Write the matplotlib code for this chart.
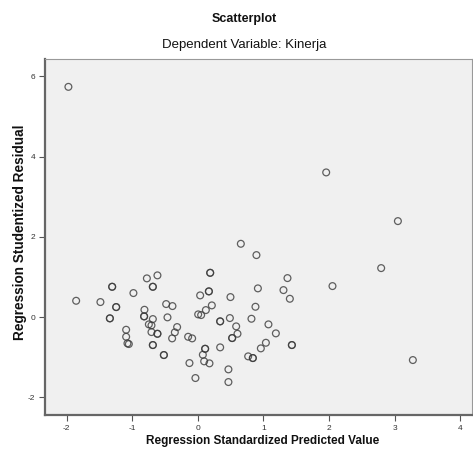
import numpy as np
import matplotlib
matplotlib.use("Agg")
import matplotlib.pyplot as plt

plt.rcParams['font.family'] = ['Liberation Sans', 'DejaVu Sans']
plt.rcParams['axes.unicode_minus'] = False

# standardized predicted value (x) and studentized residual (y)
pred = [-1.973, -1.855, -1.485, -1.306, -1.245, -1.341, -0.982, -1.093, -1.093, -1.073,
        -1.052, -0.777, -0.616, -0.686, -0.814, -0.819, -0.686, -0.747, -0.707, -0.707,
        -0.616, -0.686, -0.518, -0.483, -0.387, -0.463, -0.316, -0.351, -0.392, -0.148,
        -0.087, -0.128, -0.037, 0.035, 0.005, 0.050, 0.122, 0.213, 0.168, 0.188,
        0.111, 0.076, 0.096, 0.177, 0.340, 0.340, 0.488, 0.497, 0.584, 0.604,
        0.523, 0.466, 0.466, 0.655, 0.893, 0.915, 0.878, 0.817, 0.767, 0.838,
        0.960, 1.956, 3.049, 2.794, 2.052, 3.277, 1.366, 1.305, 1.402, 1.076,
        1.189, 1.037, 1.433,
        # overlapping (darker) points
        -1.306, -1.245, -1.341, -0.819, -0.686, -0.616, -0.686, -0.518, 0.188, 0.168,
        0.340, 0.111, 0.523, 0.838, 1.433]
resid = [5.736, 0.406, 0.374, 0.755, 0.249, -0.032, 0.598, -0.316, -0.491, -0.655,
         -0.672, 0.964, 1.039, 0.755, 0.182, 0.017, -0.050, -0.182, -0.207, -0.374,
         -0.416, -0.697, -0.946, 0.324, 0.274, -0.007, -0.249, -0.381, -0.531, -0.491,
         -0.531, -1.146, -1.519, 0.540, 0.067, 0.050, 0.174, 0.291, 0.640, 1.103,
         -0.790, -0.939, -1.103, -1.153, -0.107, -0.755, -0.025, 0.498, -0.232, -0.416,
         -0.523, -1.303, -1.619, 1.826, 1.544, 0.715, 0.257, -0.042, -0.979, -1.021,
         -0.780, 3.604, 2.391, 1.220, 0.772, -1.071, 0.971, 0.672, 0.456, -0.182,
         -0.406, -0.640, -0.697,
         0.755, 0.249, -0.032, 0.017, 0.755, -0.416, -0.697, -0.946, 1.103, 0.640,
         -0.107, -0.790, -0.523, -1.021, -0.697]

x_ticks = [-2, -1, 0, 1, 2, 3, 4]
y_ticks = [-2, 0, 2, 4, 6]

fig = plt.figure(figsize=(4.73, 4.57), dpi=100)
ax = fig.add_axes([0.0951, 0.0919, 0.903, 0.779])
ax.set_facecolor('#f0f0f0')

ax.scatter(pred, resid, s=24, facecolors='none', edgecolors='#3a3a3a',
           linewidths=0.9, alpha=0.8)

ax.set_xlim(-2.33, 4.18)
ax.set_ylim(-2.44, 6.43)
ax.set_xticks(x_ticks)
ax.set_yticks(y_ticks)
ax.tick_params(direction='out', length=4, width=0.8, colors='#555555',
               labelsize=6, labelcolor='#333333', pad=3)

for side in ['left', 'bottom']:
    ax.spines[side].set_color('#666666')
    ax.spines[side].set_linewidth(1.6)
for side in ['top', 'right']:
    ax.spines[side].set_color('#999999')
    ax.spines[side].set_linewidth(0.8)

fig.text(244 / 473, 1 - 19 / 457, 'Scatterplot', ha='center', va='center',
         fontsize=9, fontweight='bold', color='#111111')
fig.text(244 / 473, 1 - 45 / 457, 'Dependent Variable: Kinerja', ha='center',
         va='center', fontsize=9.5, color='#111111')
fig.text(263 / 473, 1 - 441 / 457, 'Regression Standardized Predicted Value',
         ha='center', va='center', fontsize=8.5, fontweight='bold', color='#111111')
fig.text(20 / 473, 1 - 232 / 457, 'Regression Studentized Residual',
         ha='center', va='center', rotation=90, fontsize=9.8, fontweight='bold',
         color='#111111')

fig.savefig('out.png', dpi=100)
